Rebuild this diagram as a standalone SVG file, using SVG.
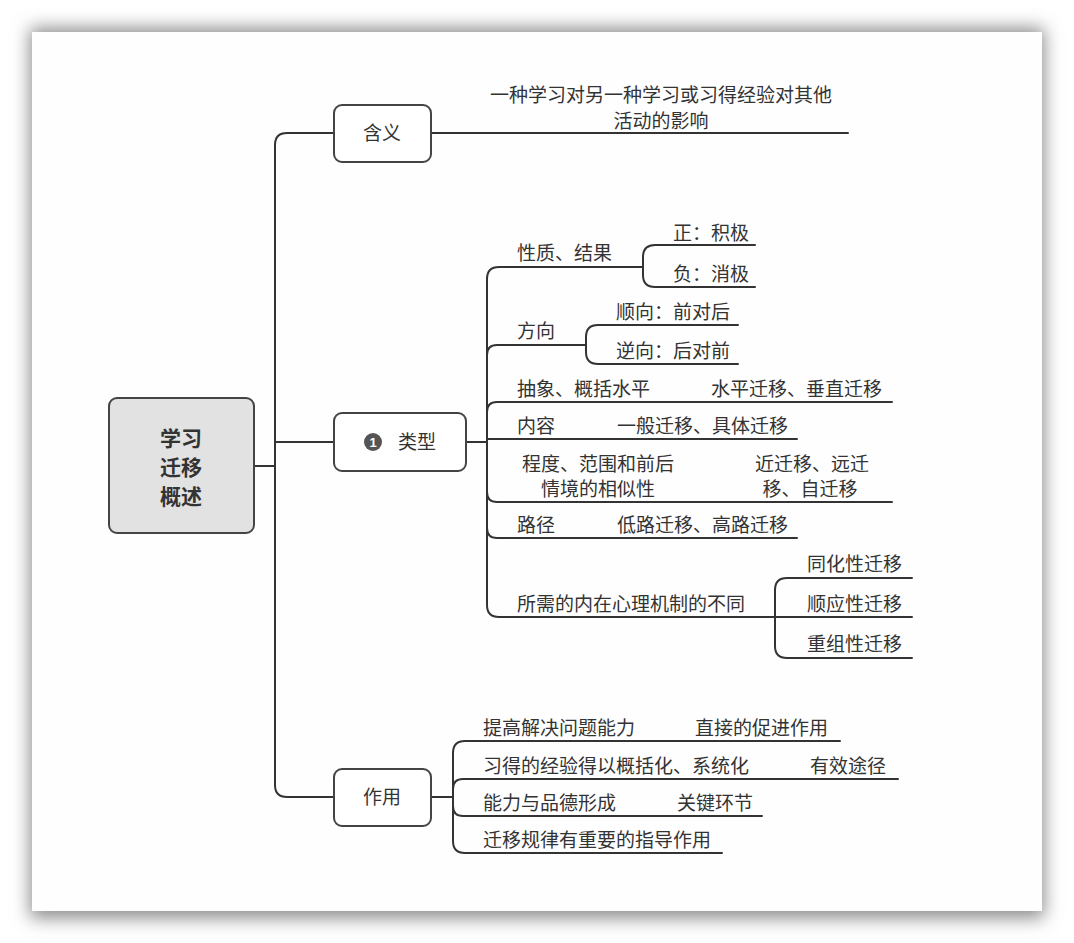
<svg xmlns="http://www.w3.org/2000/svg" width="1074" height="943" viewBox="0 0 1074 943">
<defs>
<filter id="sh" x="-10%" y="-10%" width="120%" height="120%">
<feGaussianBlur stdDeviation="9"/>
</filter>
<style>
text{font-family:"Noto Sans CJK SC","Liberation Sans",sans-serif;font-size:19px;fill:#333}
.c{text-anchor:middle}
.ln{fill:none;stroke:#333;stroke-width:2;stroke-linecap:round}
.box{fill:#fff;stroke:#444;stroke-width:2}
</style>
</defs>
<rect x="0" y="0" width="1074" height="943" fill="#fff"/>
<rect x="30" y="28" width="1014" height="890" fill="#8a8a8a" filter="url(#sh)"/>
<rect x="32" y="32" width="1010" height="879" fill="#fefefe"/>

<g id="connectors">
<path class="ln" d="M254 466 H275"/>
<path class="ln" d="M334 133 H287 Q275 133 275 145 V785 Q275 797 287 797 H334"/>
<path class="ln" d="M275 442 H334"/>
<path class="ln" d="M431 133 H848"/>
<path class="ln" d="M466 442 H487"/>
<path class="ln" d="M643 267 H499 Q487 267 487 279 V605 Q487 617 499 617 H912"/>
<path class="ln" d="M487 355 Q487 345 497 345 H586"/>
<path class="ln" d="M487 412 Q487 402 497 402 H892"/>
<path class="ln" d="M487 439 H797"/>
<path class="ln" d="M487 492 Q487 502 497 502 H892"/>
<path class="ln" d="M487 528 Q487 538 497 538 H797"/>
<path class="ln" d="M755 245 H655 Q643 245 643 257 V275 Q643 287 655 287 H755"/>
<path class="ln" d="M738 325 H598 Q586 325 586 337 V352 Q586 364 598 364 H738"/>
<path class="ln" d="M912 578 H787 Q775 578 775 590 V646 Q775 658 787 658 H912"/>
<path class="ln" d="M431 797 H453"/>
<path class="ln" d="M840 741 H465 Q453 741 453 753 V841 Q453 853 465 853 H722"/>
<path class="ln" d="M453 789 Q453 779 463 779 H898"/>
<path class="ln" d="M453 806 Q453 816 463 816 H762"/>
</g>

<g id="root">
<rect x="109" y="398" width="145" height="135" rx="8" fill="#e2e2e2" stroke="#444" stroke-width="2"/>
<text class="c" x="181" y="446" style="font-size:21px;font-weight:bold">学习</text>
<text class="c" x="181" y="475" style="font-size:21px;font-weight:bold">迁移</text>
<text class="c" x="181" y="504" style="font-size:21px;font-weight:bold">概述</text>
</g>

<g id="n-hanyi">
<rect class="box" x="334" y="105" width="97" height="57" rx="8"/>
<text class="c" x="382" y="140">含义</text>
</g>
<g id="n-hanyi-desc">
<text class="c" x="661" y="102">一种学习对另一种学习或习得经验对其他</text>
<text class="c" x="661" y="128">活动的影响</text>
</g>

<g id="n-leixing">
<rect class="box" x="334" y="413" width="132" height="58" rx="8"/>
<circle cx="373" cy="442" r="9" fill="#555"/>
<text class="c" x="373" y="447" style="font-size:13px;font-weight:bold;fill:#fff;font-family:'Liberation Sans',sans-serif">1</text>
<text x="398" y="449">类型</text>
</g>

<g id="n-xingzhi"><text x="517" y="260">性质、结果</text></g>
<g id="n-zheng"><text x="673" y="240">正：积极</text></g>
<g id="n-fu"><text x="673" y="281">负：消极</text></g>
<g id="n-fangxiang"><text x="517" y="338">方向</text></g>
<g id="n-shun"><text x="616" y="319">顺向：前对后</text></g>
<g id="n-ni"><text x="616" y="358">逆向：后对前</text></g>
<g id="n-chouxiang"><text x="517" y="396">抽象、概括水平</text><text x="711" y="396">水平迁移、垂直迁移</text></g>
<g id="n-neirong"><text x="517" y="433">内容</text><text x="617" y="433">一般迁移、具体迁移</text></g>
<g id="n-chengdu">
<text class="c" x="598" y="471">程度、范围和前后</text>
<text class="c" x="598" y="496">情境的相似性</text>
<text class="c" x="812" y="471">近迁移、远迁</text>
<text class="c" x="810" y="496">移、自迁移</text>
</g>
<g id="n-lujing"><text x="517" y="532">路径</text><text x="617" y="532">低路迁移、高路迁移</text></g>
<g id="n-suoxu"><text x="517" y="611">所需的内在心理机制的不同</text></g>
<g id="n-tonghua"><text x="807" y="571">同化性迁移</text></g>
<g id="n-shunying"><text x="807" y="611">顺应性迁移</text></g>
<g id="n-chongzu"><text x="807" y="651">重组性迁移</text></g>

<g id="n-zuoyong">
<rect class="box" x="334" y="769" width="97" height="57" rx="8"/>
<text class="c" x="382" y="804">作用</text>
</g>
<g id="n-z1"><text x="483" y="735">提高解决问题能力</text><text x="695" y="735">直接的促进作用</text></g>
<g id="n-z2"><text x="483" y="773">习得的经验得以概括化、系统化</text><text x="810" y="773">有效途径</text></g>
<g id="n-z3"><text x="483" y="810">能力与品德形成</text><text x="677" y="810">关键环节</text></g>
<g id="n-z4"><text x="483" y="847">迁移规律有重要的指导作用</text></g>
</svg>
